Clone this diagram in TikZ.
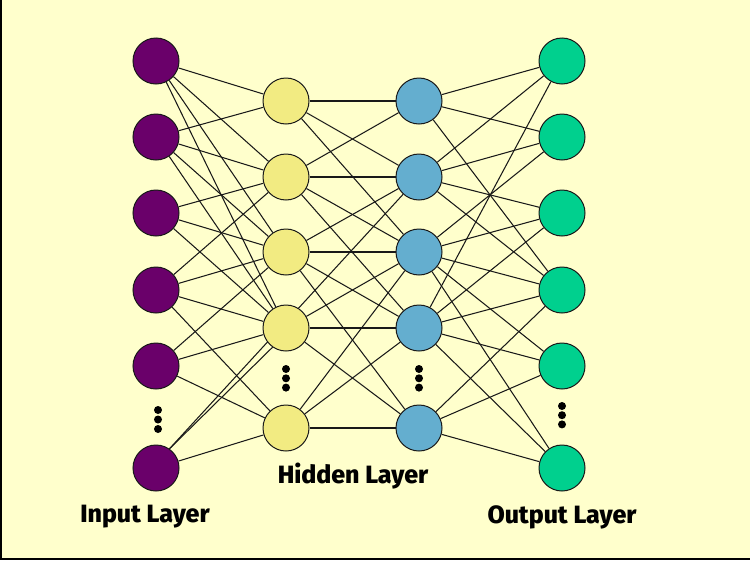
\documentclass[tikz,border=0pt]{standalone}
\usepackage{fontspec}
\newfontfamily\labfont{Fira Sans}[UprightFont=* ExtraBold]
\definecolor{bgc}{HTML}{FFFFCC}
\definecolor{inc}{HTML}{6A006A}
\definecolor{h1c}{HTML}{F2EB82}
\definecolor{h2c}{HTML}{64AECF}
\definecolor{outc}{HTML}{00D08E}
\pgfdeclarelayer{back}
\pgfdeclarelayer{under}
\pgfsetlayers{back,under,main}
\begin{document}
\begin{tikzpicture}[x=1pt,y=-1pt,
  neuron/.style={circle,draw=black!90,line width=1pt,minimum size=46pt,inner sep=0pt},
  inn/.style={neuron,fill=inc},
  hida/.style={neuron,fill=h1c},
  hidb/.style={neuron,fill=h2c},
  outn/.style={neuron,fill=outc},
  link/.style={draw=black!90,line width=1.05pt},
  vdot/.style={circle,fill=black,inner sep=0pt,minimum size=8pt},
  lab/.style={font=\labfont\fontsize{25}{28}\selectfont,inner sep=0pt}]
\begin{pgfonlayer}{back}
\fill[bgc] (0,0) rectangle (750,560);
\end{pgfonlayer}
\useasboundingbox (0,0) rectangle (750,560);
\draw[line width=2pt] (1,0) -- (1,559) -- (750,559);
% nodes
\foreach \n/\y in {1/61,2/137,3/213,4/290,5/366,6/468} {
  \node[inn] (I\n) at (156,\y) {};
  \node[outn] (O\n) at (562,\y) {};
}
\foreach \n/\y in {1/101,2/177,3/252,4/328,5/428} {
  \node[hida] (A\n) at (286,\y) {};
  \node[hidb] (B\n) at (419,\y) {};
}
% links
\foreach \a/\b in {I1/A1,I1/A2,I1/A3,I1/A4,I2/A1,I2/A2,I2/A3,I2/A4,I3/A2,I3/A3,I3/A4,
  I4/A2,I4/A3,I4/A4,I4/A5,I5/A3,I5/A4,I5/A5,I6/A5,
  A1/B1,A1/B2,A1/B3,A2/B1,A2/B2,A2/B3,A2/B4,A3/B2,A3/B3,A3/B4,A3/B5,A4/B3,A4/B4,A4/B5,A5/B3,A5/B4,A5/B5,
  B1/O1,B1/O2,B1/O4,B2/O1,B2/O2,B2/O3,B2/O4,B3/O2,B3/O3,B3/O4,B3/O5,B3/O6,B4/O1,B4/O3,B4/O4,B4/O5,B4/O6,B5/O4,B5/O5,B5/O6}
  \draw[link] (\a) -- (\b);
\draw[link] (I6.55) -- (A4.235);
\begin{pgfonlayer}{under}
\draw[link] (I6.55) -- (B2);
\end{pgfonlayer}
% dots
\foreach \x/\y in {158/410,158/419.5,158/429,286/369,286/378.3,286/387.6,419/369,419/378.3,419/387.6,562/406,562/415.2,562/424.4}
  \node[vdot] at (\x,\y) {};
% labels
\node[lab] (Lin) at (145,517) {Input Layer};
\node[lab] (Lhid) at (353,476) {Hidden Layer};
\node[lab] (Lout) at (562,517) {Output Layer};
\end{tikzpicture}
\end{document}
